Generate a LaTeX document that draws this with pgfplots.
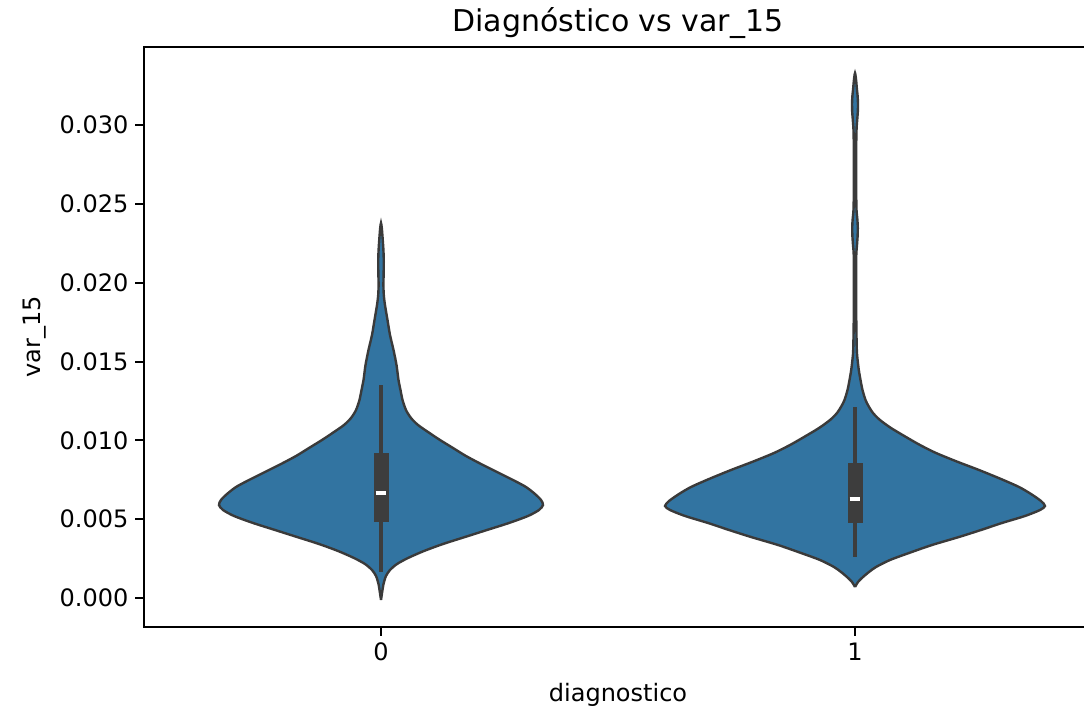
\documentclass[border=0pt]{standalone}
\usepackage{fontspec}
\setmainfont{DejaVu Sans}
\usepackage{pgfplots}
\pgfplotsset{compat=1.18}
\definecolor{vfill}{HTML}{3274A1}
\definecolor{vline}{HTML}{3A3A3A}
\definecolor{boxc}{HTML}{3D3D3D}

\begin{document}
\begin{tikzpicture}
\begin{axis}[
  scale only axis, width=474pt, height=290pt,
  xmin=-0.5, xmax=1.5, ymin=-0.00184, ymax=0.03495,
  xtick={0,1}, xticklabels={0,1},
  ytick={0,0.005,0.01,0.015,0.02,0.025,0.03},
  scaled y ticks=false,
  yticklabel style={/pgf/number format/fixed, /pgf/number format/fixed zerofill, /pgf/number format/precision=3},
  /pgf/number format/assume math mode=true,
  tick align=outside, tick pos=left,
  major tick length=4.3pt,
  every tick/.style={black, line width=1pt},
  axis line style={black, line width=1pt},
  ticklabel style={font=\fontsize{12}{14}\selectfont},
  every axis title shift=0pt,
  title={Diagnóstico vs var\_15},
  title style={font=\fontsize{15}{18}\selectfont, at={(axis description cs:0.5,1.0259)}, anchor=base},
  xlabel={diagnostico},
  xlabel style={font=\fontsize{12}{14}\selectfont, at={(axis description cs:0.5,-0.1276)}, anchor=base},
  ylabel={var\_15},
  ylabel style={font=\fontsize{12}{14}\selectfont, at={(axis description cs:-0.1097,0.5)}, anchor=base},
]
% violin 0
\addplot[fill=vfill, draw=vline, line width=1.2pt, smooth, tension=0.45] coordinates {
(0,-0.000127) (0.0025,0.000381) (0.0053,0.000888) (0.0105,0.001395) (0.0190,0.001776)
(0.0338,0.002156) (0.0570,0.002537) (0.0907,0.002981) (0.1308,0.003425) (0.1772,0.003869)
(0.2236,0.004313) (0.2700,0.004757) (0.3101,0.005201) (0.3333,0.005581) (0.3418,0.005898)
(0.3376,0.006215) (0.3249,0.006596) (0.3059,0.007040) (0.2785,0.007484) (0.2447,0.007991)
(0.2110,0.008499) (0.1793,0.009006) (0.1519,0.009514) (0.1245,0.010021) (0.0992,0.010528)
(0.0781,0.010972) (0.0633,0.011416) (0.0527,0.011924) (0.0454,0.012558) (0.0411,0.013192)
(0.0369,0.013826) (0.0327,0.014778) (0.0264,0.015729) (0.0190,0.016680) (0.0137,0.017632)
(0.0084,0.018583) (0.0059,0.019217) (0.0051,0.019852) (0.0055,0.020486) (0.0059,0.021310)
(0.0051,0.022071) (0.0034,0.022832) (0.0017,0.023467) (0,0.023784)
(-0.0017,0.023467) (-0.0034,0.022832) (-0.0051,0.022071) (-0.0059,0.021310) (-0.0055,0.020486)
(-0.0051,0.019852) (-0.0059,0.019217) (-0.0084,0.018583) (-0.0137,0.017632) (-0.0190,0.016680)
(-0.0264,0.015729) (-0.0327,0.014778) (-0.0369,0.013826) (-0.0411,0.013192) (-0.0454,0.012558)
(-0.0527,0.011924) (-0.0633,0.011416) (-0.0781,0.010972) (-0.0992,0.010528) (-0.1245,0.010021)
(-0.1519,0.009514) (-0.1793,0.009006) (-0.2110,0.008499) (-0.2447,0.007991) (-0.2785,0.007484)
(-0.3059,0.007040) (-0.3249,0.006596) (-0.3376,0.006215) (-0.3418,0.005898) (-0.3333,0.005581)
(-0.3101,0.005201) (-0.2700,0.004757) (-0.2236,0.004313) (-0.1772,0.003869) (-0.1308,0.003425)
(-0.0907,0.002981) (-0.0570,0.002537) (-0.0338,0.002156) (-0.0190,0.001776) (-0.0105,0.001395)
(-0.0053,0.000888) (-0.0025,0.000381) (0,-0.000127)
};
% violin 1
\addplot[fill=vfill, draw=vline, line width=1.2pt, smooth, tension=0.45] coordinates {
(1,0.000698) (1.0063,0.001015) (1.0169,0.001332) (1.0295,0.001649) (1.0443,0.001966)
(1.0738,0.002410) (1.1139,0.002854) (1.1624,0.003361) (1.2194,0.003869) (1.2658,0.004313)
(1.3101,0.004757) (1.3586,0.005201) (1.3903,0.005581) (1.4008,0.005835) (1.3924,0.006152)
(1.3713,0.006596) (1.3460,0.007040) (1.3080,0.007547) (1.2616,0.008118) (1.2173,0.008626)
(1.1709,0.009196) (1.1371,0.009704) (1.1076,0.010211) (1.0759,0.010782) (1.0527,0.011289)
(1.0380,0.011733) (1.0285,0.012177) (1.0222,0.012558) (1.0158,0.013192) (1.0116,0.013826)
(1.0080,0.014461) (1.0055,0.015095) (1.0038,0.015729) (1.0027,0.017632) (1.0025,0.020169)
(1.0027,0.021754) (1.0042,0.022389) (1.0055,0.022960) (1.0059,0.023467) (1.0051,0.023974)
(1.0032,0.024608) (1.0025,0.025877) (1.0025,0.028414) (1.0032,0.029682) (1.0046,0.030316)
(1.0059,0.030824) (1.0063,0.031331) (1.0055,0.031839) (1.0038,0.032346) (1.0023,0.032853)
(1,0.033297)
(0.9977,0.032853) (0.9962,0.032346) (0.9945,0.031839) (0.9937,0.031331) (0.9941,0.030824)
(0.9954,0.030316) (0.9968,0.029682) (0.9975,0.028414) (0.9975,0.025877) (0.9968,0.024608)
(0.9949,0.023974) (0.9941,0.023467) (0.9945,0.022960) (0.9958,0.022389) (0.9973,0.021754)
(0.9975,0.020169) (0.9973,0.017632) (0.9962,0.015729) (0.9945,0.015095) (0.9920,0.014461)
(0.9884,0.013826) (0.9842,0.013192) (0.9778,0.012558) (0.9715,0.012177) (0.9620,0.011733)
(0.9473,0.011289) (0.9241,0.010782) (0.8924,0.010211) (0.8629,0.009704) (0.8291,0.009196)
(0.7827,0.008626) (0.7384,0.008118) (0.6920,0.007547) (0.6540,0.007040) (0.6287,0.006596)
(0.6076,0.006152) (0.5992,0.005835) (0.6097,0.005581) (0.6414,0.005201) (0.6899,0.004757)
(0.7342,0.004313) (0.7806,0.003869) (0.8376,0.003361) (0.8861,0.002854) (0.9262,0.002410)
(0.9557,0.001966) (0.9705,0.001649) (0.9831,0.001332) (0.9937,0.001015) (1,0.000698)
};
% whiskers
\addplot[boxc, line width=2pt] coordinates {(0,0.00165) (0,0.01352)};
\addplot[boxc, line width=2pt] coordinates {(1,0.00260) (1,0.01211)};
% boxes
\addplot[boxc, line width=7.5pt] coordinates {(0,0.00482) (0,0.00920)};
\addplot[boxc, line width=7.5pt] coordinates {(1,0.00476) (1,0.00856)};
% medians
\addplot[white, line width=2pt] coordinates {(-0.0115,0.00666) (0.0115,0.00666)};
\addplot[white, line width=2pt] coordinates {(0.9885,0.00628) (1.0115,0.00628)};
\end{axis}
\pgfresetboundingbox
\path[use as bounding box] ([xshift=-72pt,yshift=-41pt]current axis.south west) rectangle ([xshift=-4pt,yshift=23.5pt]current axis.north east);
\end{tikzpicture}
\end{document}
